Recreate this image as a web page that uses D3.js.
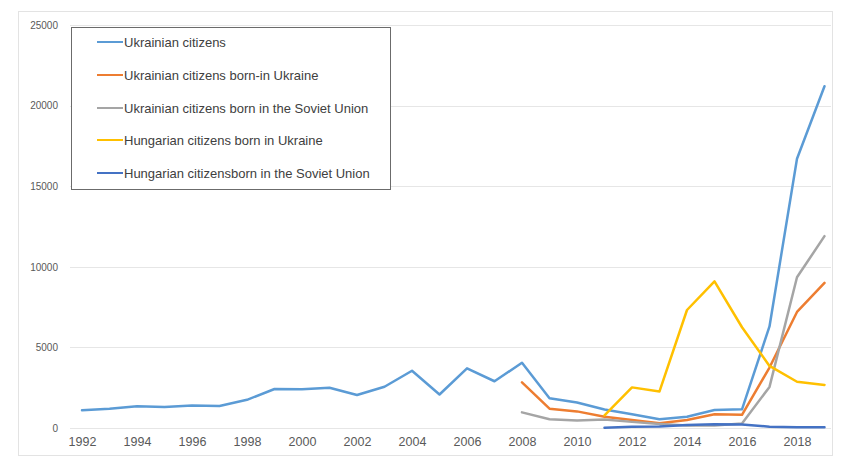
<!DOCTYPE html>
<html>
<head>
<meta charset="utf-8">
<script src="https://cdn.jsdelivr.net/npm/d3@7"></script>
<style>
  body { margin: 0; background: #fff; }
  svg { font-family: "Liberation Sans", Arial, sans-serif; }
</style>
</head>
<body>
<svg width="841" height="463"></svg>
<script>
const years = d3.range(1992, 2020)

// values, null = no data
const uaCitizens = [1100, 1200, 1350, 1300, 1400, 1370, 1750, 2420, 2400, 2500, 2050, 2560, 3550, 2080,
  3700, 2900, 4050, 1850, 1580, 1150, 850, 540, 700, 1120, 1160, 6300, 16700, 21200]
const uaBornUa = [null, null, null, null, null, null, null, null, null, null, null, null, null, null,
  null, null, 2830, 1200, 1030, 700, 500, 290, 500, 850, 820, 3750, 7200, 9000]
const uaBornSu = [null, null, null, null, null, null, null, null, null, null, null, null, null, null,
  null, null, 970, 540, 460, 520, 380, 250, 150, 150, 280, 2550, 9350, 11900]
const huBornUa = [null, null, null, null, null, null, null, null, null, null, null, null, null, null,
  null, null, null, null, null, 780, 2520, 2270, 7320, 9100, 6250, 3850, 2870, 2670]
const huBornSu = [null, null, null, null, null, null, null, null, null, null, null, null, null, null,
  null, null, null, null, null, 20, 70, 90, 190, 240, 220, 80, 40, 40]

const seriesNames = ['Ukrainian citizens', 'Ukrainian citizens born-in Ukraine',
  'Ukrainian citizens born in the Soviet Union', 'Hungarian citizens born in Ukraine',
  'Hungarian citizensborn in the Soviet Union']
const seriesColors = ['#5b9bd5', '#ed7d31', '#a5a5a5', '#ffc000', '#4472c4']
const yTicks = [0, 5000, 10000, 15000, 20000, 25000]
const xTickYears = d3.range(1992, 2019, 2)

const svg = d3.select('svg')

// outer chart frame
svg.append('rect')
  .attr('x', 18.5).attr('y', 11.5)
  .attr('width', 814).attr('height', 444)
  .attr('fill', 'none')
  .attr('stroke', '#e3e3e3')

const plotLeft = 70, plotRight = 831
const xScale = d3.scalePoint()
  .domain(years)
  .range([82, 824.5])

const yScale = d3.scaleLinear()
  .domain([0, 25000])
  .range([428, 25])

// gridlines
svg.append('g').selectAll('line')
  .data(yTicks)
  .enter().append('line')
  .attr('x1', plotLeft).attr('x2', plotRight)
  .attr('y1', d => Math.round(yScale(d)) + 0.5)
  .attr('y2', d => Math.round(yScale(d)) + 0.5)
  .attr('stroke', '#e6e6e6')

const yAxis = d3.axisLeft(yScale)
  .tickValues(yTicks)
  .tickSize(0)
  .tickPadding(0)
  .tickFormat(d3.format('d'))

const yAxisG = svg.append('g')
  .attr('transform', 'translate(58,0)')
  .call(yAxis)
yAxisG.select('.domain').remove()
yAxisG.selectAll('text')
  .attr('fill', '#595959')
  .style('font-size', '10px')

const xAxis = d3.axisBottom(xScale)
  .tickValues(xTickYears)
  .tickSize(0)
  .tickPadding(0)

const xAxisG = svg.append('g')
  .attr('transform', 'translate(0,437)')
  .call(xAxis)
xAxisG.select('.domain').remove()
xAxisG.selectAll('text')
  .attr('fill', '#595959')
  .style('font-size', '12.5px')

const allSeries = [uaCitizens, uaBornUa, uaBornSu, huBornUa, huBornSu]

const line = d3.line()
  .defined(d => d.v !== null)
  .x(d => xScale(d.year))
  .y(d => yScale(d.v))

const linesG = svg.append('g')
allSeries.forEach((vals, i) => {
  const pts = years.map((y, j) => ({ year: y, v: vals[j] }))
  linesG.append('path')
    .datum(pts)
    .attr('d', line)
    .attr('fill', 'none')
    .attr('stroke', seriesColors[i])
    .attr('stroke-width', 2.5)
    .attr('stroke-linejoin', 'round')
    .attr('stroke-linecap', 'round')
})

// legend
const legendG = svg.append('g')
legendG.append('rect')
  .attr('x', 71.5).attr('y', 27.5)
  .attr('width', 319).attr('height', 162)
  .attr('fill', '#fff')
  .attr('stroke', '#6b6b6b')
  .attr('stroke-width', 1)

const legendRows = [42, 75, 108, 140, 173]
seriesNames.forEach((name, i) => {
  legendG.append('line')
    .attr('x1', 97).attr('x2', 123)
    .attr('y1', legendRows[i]).attr('y2', legendRows[i])
    .attr('stroke', seriesColors[i])
    .attr('stroke-width', 2)
  legendG.append('text')
    .attr('x', 124)
    .attr('y', legendRows[i])
    .attr('dy', '0.35em')
    .attr('fill', '#404040')
    .style('font-size', '13px')
    .text(name)
})
</script>
</body>
</html>
